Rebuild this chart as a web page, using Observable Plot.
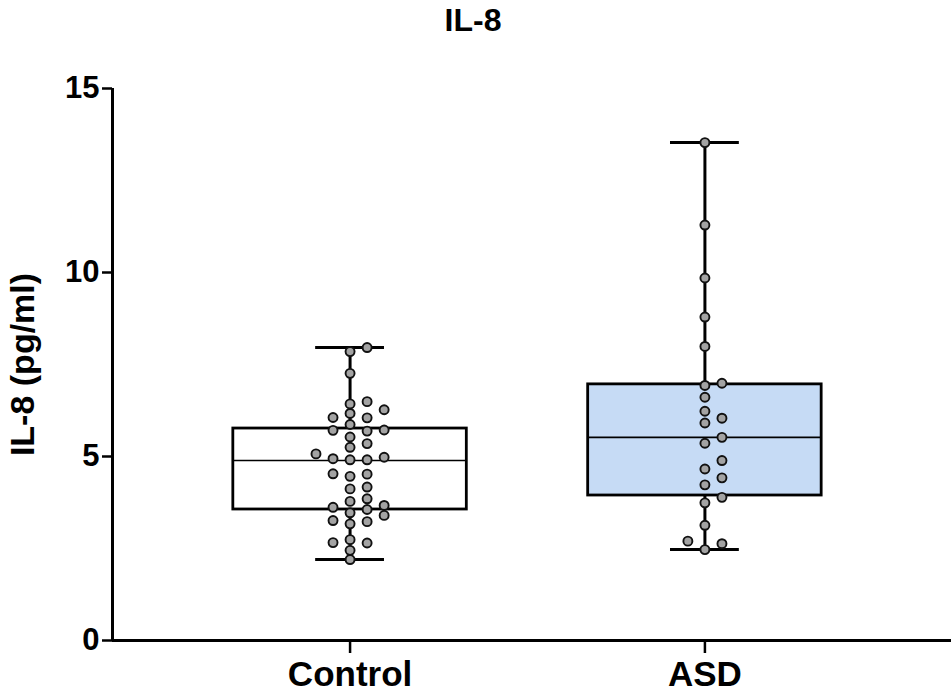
<!DOCTYPE html>
<html>
<head>
<meta charset="utf-8">
<script src="https://cdn.jsdelivr.net/npm/d3@7"></script>
<script src="https://cdn.jsdelivr.net/npm/@observablehq/plot@0.6"></script>
<style>
  html, body { margin: 0; padding: 0; background: #fff; }
</style>
</head>
<body>
<div id="chart"></div>
<script>
// ---- data ----
const groups = ["Control", "ASD"];
const controlValues = [2.20, 2.45, 2.65, 2.66, 2.74, 3.17, 3.23, 3.26, 3.40, 3.47, 3.56, 3.62, 3.67, 3.78, 3.85,
  4.12, 4.17, 4.46, 4.52, 4.53, 4.91, 4.91, 4.94, 4.98, 5.07, 5.25, 5.35, 5.53, 5.69, 5.71, 5.72, 5.87,
  6.05, 6.06, 6.17, 6.27, 6.43, 6.49, 7.26, 7.85, 7.96];
const asdValues = [2.47, 2.63, 2.70, 3.13, 3.74, 3.89, 4.23, 4.42, 4.66, 4.89, 5.36, 5.52, 5.91, 6.04, 6.23,
  6.61, 6.93, 6.99, 7.99, 8.79, 9.85, 11.29, 13.53];
const q1Values = [3.56, 3.94];
const medianValues = [4.89, 5.52];
const q3Values = [5.76, 6.96];
const minValues = [2.20, 2.47];
const maxValues = [7.96, 13.53];
const yTicks = [0, 5, 10, 15];
const titleText = "IL-8";
const yLabel = "IL-8 (pg/ml)";

// ---- derived tables ----
const stats = groups.map((g, i) => ({
  group: g, i, q1: q1Values[i], median: medianValues[i], q3: q3Values[i], min: minValues[i], max: maxValues[i]
}));

const colStep = 17 / 354;   // horizontal spacing of swarm columns, in x units
const rowGap = 0.236;       // minimum vertical gap in a column, in y units
function swarm(values, gi) {
  const placed = [];
  return values.slice().sort((a, b) => a - b).map(v => {
    for (const c of [0, 1, -1, 2, -2, 3, -3, 4, -4]) {
      if (!placed.some(p => p.c === c && Math.abs(p.v - v) < rowGap)) {
        placed.push({v, c});
        return {group: groups[gi], x: gi + c * colStep, y: v};
      }
    }
  });
}
const points = [...swarm(controlValues, 0), ...swarm(asdValues, 1)];

const boxHalf = 0.329;
const capHalf = 0.097;
const xDomain = [-0.6695, 1.6949];
const boxFill = ["#ffffff", "#c6dbf5"];

const chart = Plot.plot({
  width: 951,
  height: 696,
  marginTop: 88,
  marginBottom: 56,
  marginLeft: 112,
  marginRight: 0,
  style: {fontFamily: "'Liberation Sans', Arial, Helvetica, sans-serif", fontWeight: "bold", color: "#000", background: "#fff"},
  x: {domain: xDomain, axis: null},
  y: {domain: [0, 15], axis: null},
  marks: [
    // boxes
    Plot.rect(stats, {x1: d => d.i - boxHalf, x2: d => d.i + boxHalf, y1: "q1", y2: "q3",
      fill: d => boxFill[d.i], stroke: "#000", strokeWidth: 2.8}),
    // whiskers
    Plot.ruleX(stats, {x: "i", y1: "q3", y2: "max", stroke: "#000", strokeWidth: 3}),
    Plot.ruleX(stats, {x: "i", y1: "min", y2: "q1", stroke: "#000", strokeWidth: 3}),
    Plot.ruleY(stats, {y: "max", x1: d => d.i - capHalf, x2: d => d.i + capHalf, stroke: "#000", strokeWidth: 3}),
    Plot.ruleY(stats, {y: "min", x1: d => d.i - capHalf, x2: d => d.i + capHalf, stroke: "#000", strokeWidth: 3}),
    // median
    Plot.ruleY(stats, {y: "median", x1: d => d.i - boxHalf, x2: d => d.i + boxHalf, stroke: "#000", strokeWidth: 1.6}),
    // points
    Plot.dot(points, {x: "x", y: "y", r: 4.5, fill: "#a3a3a3", stroke: "#111", strokeWidth: 1.9}),
    // axes lines
    Plot.ruleX([xDomain[0]], {y1: 0, y2: 15, stroke: "#000", strokeWidth: 3}),
    Plot.ruleY([0], {stroke: "#000", strokeWidth: 3}),
    // y axis
    Plot.axisY({ticks: yTicks, tickSize: 10, tickPadding: 3, fontSize: 31, strokeWidth: 2.5, tickFormat: d => d, label: null}),
    // x axis
    Plot.axisX({ticks: [0, 1], tickSize: 13, tickPadding: 8, fontSize: 35, strokeWidth: 2.5, tickFormat: d => groups[d], label: null}),
    // y label
    Plot.text([yLabel], {frameAnchor: "left", dx: -89, rotate: -90, textAnchor: "middle", lineAnchor: "middle", fontSize: 34, fontWeight: "bold"}),
    // title
    Plot.text([titleText], {frameAnchor: "top", dx: -59, dy: -68, textAnchor: "middle", lineAnchor: "middle", fontSize: 32, fontWeight: "bold"})
  ]
});
document.getElementById("chart").appendChild(chart);
</script>
</body>
</html>
